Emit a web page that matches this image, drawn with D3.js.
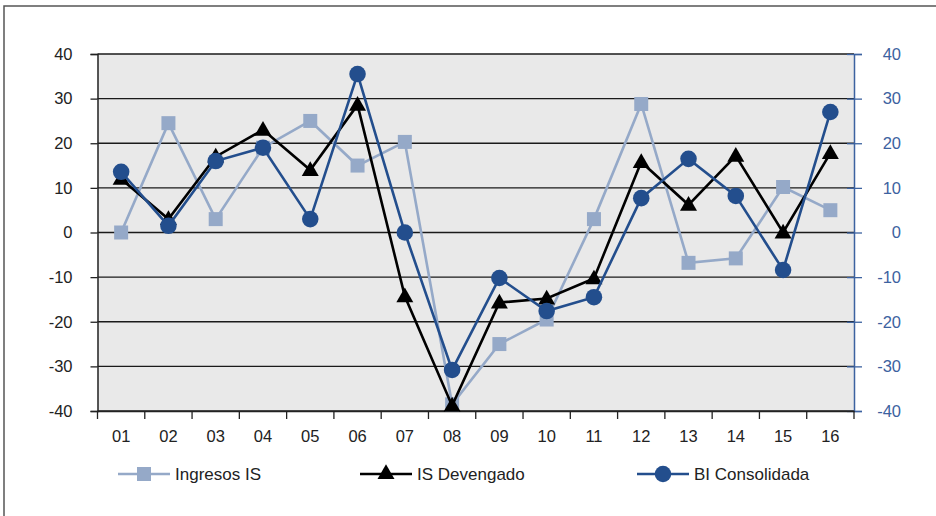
<!DOCTYPE html>
<html><head><meta charset="utf-8">
<script src="https://cdn.jsdelivr.net/npm/d3@7"></script>
<style>
html,body{margin:0;padding:0;background:#fff;}
text{font-family:"Liberation Sans","Helvetica Neue",Arial,sans-serif;}
</style></head>
<body><svg id="c" width="936" height="516"></svg>
<script>
const categories = ["01","02","03","04","05","06","07","08","09","10","11","12","13","14","15","16"];
const ingresosIS = [0, 24.5, 3, 19, 25, 15, 20.3, -38.5, -25, -19.5, 3, 28.8, -6.8, -5.8, 10.2, 5];
const isDevengado = [12, 3, 17, 23, 14, 28.6, -14.3, -38.8, -15.7, -14.8, -10.3, 15.8, 6.2, 17.2, 0, 17.8];
const biConsolidada = [13.6, 1.5, 16, 19, 3, 35.5, 0, -30.8, -10.2, -17.6, -14.5, 7.7, 16.5, 8.2, -8.4, 27];
const yTicks = [-40,-30,-20,-10,0,10,20,30,40];
const seriesNames = ["Ingresos IS","IS Devengado","BI Consolidada"];

const svg = d3.select("#c");
const L = 97.5, R = 854, T = 54, B = 411;
const x = d3.scaleBand().domain(categories).range([L, R]);
const y = d3.scaleLinear().domain([-40, 40]).range([B, T]);
const fmt = d => String(d);

// outer frame
svg.append("path").attr("d", `M4,516 V6 H936`).attr("fill","none").attr("stroke","#555").attr("stroke-width",1.5);

// plot background
svg.append("rect").attr("x", L).attr("y", T).attr("width", R - L).attr("height", B - T).attr("fill", "#e9e9e9");

// gridlines
svg.append("g").selectAll("line").data(yTicks).join("line")
  .attr("x1", L).attr("x2", R).attr("y1", d => y(d)).attr("y2", d => y(d))
  .attr("stroke", "#1a1a1a").attr("stroke-width", 1.3);

// left axis
const gl = svg.append("g").attr("transform", `translate(${L},0)`)
  .call(d3.axisLeft(y).tickValues(yTicks).tickSize(7).tickPadding(18).tickFormat(fmt));
gl.select(".domain").attr("stroke", "#222").attr("stroke-width", 1.5);
gl.selectAll(".tick line").attr("stroke", "#222").attr("stroke-width", 1.3);
gl.selectAll("text").attr("font-size", 16.5).attr("fill", "#222");

// right axis
const gr = svg.append("g").attr("transform", `translate(${R},0)`)
  .call(d3.axisRight(y).tickValues(yTicks).tickSize(8).tickPadding(0).tickFormat(fmt));
gr.select(".domain").attr("stroke", "#3c62a0").attr("stroke-width", 1.5);
gr.selectAll(".tick line").attr("stroke", "#3c62a0").attr("stroke-width", 1.3).attr("x1", -7);
gr.selectAll("text").attr("font-size", 16.5).attr("fill", "#3c62a0").attr("text-anchor", "end").attr("x", 47);

// bottom axis
const gb = svg.append("g").attr("transform", `translate(0,${B})`)
  .call(d3.axisBottom(x).tickSize(0).tickPadding(19));
gb.select(".domain").attr("stroke", "#222").attr("stroke-width", 1.5);
gb.selectAll("text").attr("font-size", 16.5).attr("fill", "#222");
const bounds = categories.map(c => x(c)).concat([R]);
svg.append("g").selectAll("line").data(bounds).join("line")
  .attr("x1", d => d).attr("x2", d => d).attr("y1", B).attr("y2", B + 8)
  .attr("stroke", "#222").attr("stroke-width", 1.3);

const cx = c => x(c) + x.bandwidth() / 2;
const line = d3.line().x((d, i) => cx(categories[i])).y(d => y(d));

const cLight = "#95a9c8", cBlack = "#000", cBlue = "#234e8d";
const sym = {
  square: d3.symbol().type(d3.symbolSquare).size(196),
  triangle: d3.symbol().type(d3.symbolTriangle).size(125),
  circle: d3.symbol().type(d3.symbolCircle).size(215)
};

function drawSeries(data, color, shape) {
  svg.append("path").datum(data).attr("d", line).attr("fill", "none")
    .attr("stroke", color).attr("stroke-width", 2.6);
  svg.append("g").selectAll("path").data(data).join("path")
    .attr("d", sym[shape])
    .attr("transform", (d, i) => `translate(${cx(categories[i])},${y(d) + (shape === "triangle" ? 1 : 0)})`)
    .attr("fill", color);
}
drawSeries(ingresosIS, cLight, "square");
drawSeries(isDevengado, cBlack, "triangle");
drawSeries(biConsolidada, cBlue, "circle");

// legend
const legend = [
  {name: seriesNames[0], color: cLight, shape: "square", x0: 118},
  {name: seriesNames[1], color: cBlack, shape: "triangle", x0: 360},
  {name: seriesNames[2], color: cBlue, shape: "circle", x0: 637}
];
const ly = 474;
legend.forEach(l => {
  svg.append("line").attr("x1", l.x0).attr("x2", l.x0 + 52).attr("y1", ly).attr("y2", ly)
    .attr("stroke", l.color).attr("stroke-width", 2.6);
  svg.append("path").attr("d", sym[l.shape])
    .attr("transform", `translate(${l.x0 + 26},${ly})`).attr("fill", l.color);
  svg.append("text").attr("x", l.x0 + 57).attr("y", ly).attr("dy", "0.35em")
    .attr("font-size", 17).attr("fill", "#222").text(l.name);
});
</script></body></html>
